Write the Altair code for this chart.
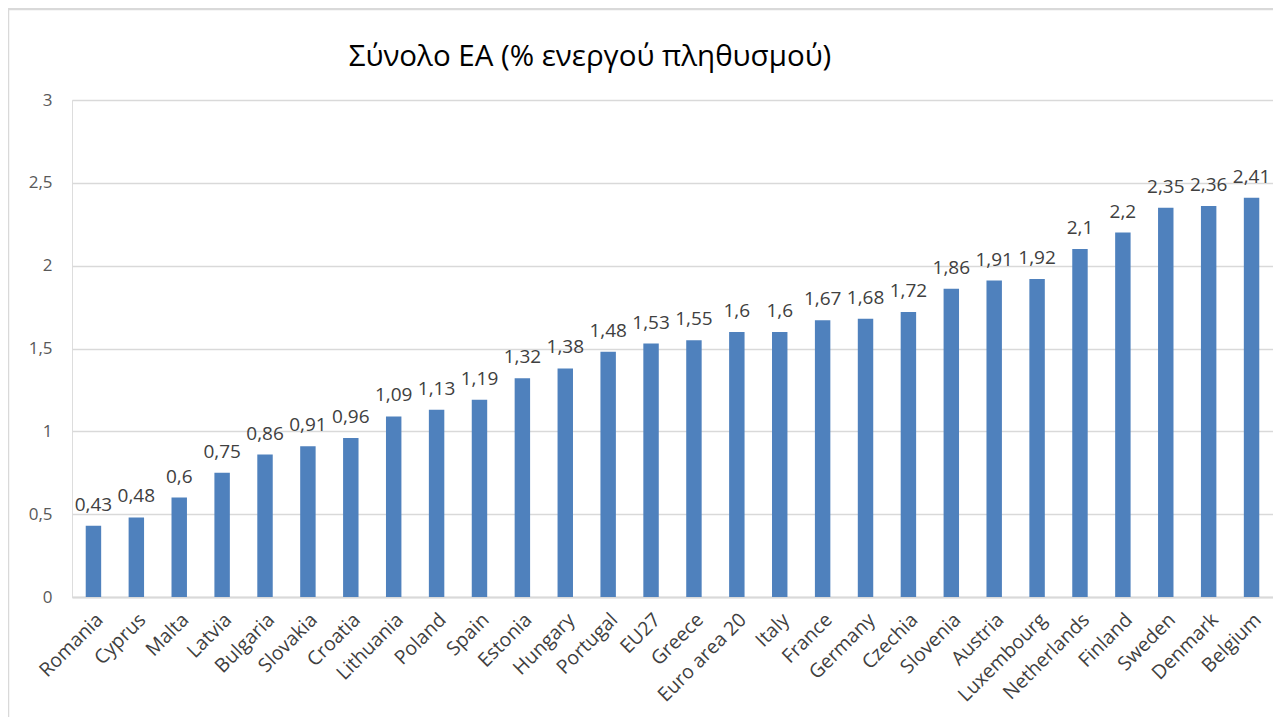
import altair as alt
import pandas as pd

countries = ["Romania", "Cyprus", "Malta", "Latvia", "Bulgaria", "Slovakia", "Croatia",
             "Lithuania", "Poland", "Spain", "Estonia", "Hungary", "Portugal", "EU27",
             "Greece", "Euro area 20", "Italy", "France", "Germany", "Czechia", "Slovenia",
             "Austria", "Luxembourg", "Netherlands", "Finland", "Sweden", "Denmark", "Belgium"]
values = [0.43, 0.48, 0.6, 0.75, 0.86, 0.91, 0.96, 1.09, 1.13, 1.19, 1.32, 1.38, 1.48, 1.53,
          1.55, 1.6, 1.6, 1.67, 1.68, 1.72, 1.86, 1.91, 1.92, 2.1, 2.2, 2.35, 2.36, 2.41]
y_ticks = [0, 0.5, 1, 1.5, 2, 2.5, 3]
title_text = "Σύνολο ΕΑ (% ενεργού πληθυσμού)"

df = pd.DataFrame({"country": countries, "value": values})

FONT = "Open Sans"
BORDER = "#D9D9D9"

x_enc = alt.X("country:N", sort=countries, title=None,
              scale=alt.Scale(paddingInner=0.64, paddingOuter=0.32),
              axis=alt.Axis(labelAngle=-45, labelFontSize=19.5, labelColor="#404040",
                            labelFont=FONT, labelPadding=13, ticks=False,
                            domainColor="#D9D9D9", domainWidth=2))
y_enc = alt.Y("value:Q", title=None,
              scale=alt.Scale(domain=[0, 3], nice=False),
              axis=alt.Axis(values=y_ticks, format="~g",
                            labelExpr="replace(datum.label, '.', ',')",
                            labelFontSize=17, labelColor="#595959", labelFont=FONT,
                            labelPadding=20, ticks=False, domain=False,
                            gridColor="#D9D9D9", gridWidth=1.5))

base = alt.Chart(df)

bars = base.mark_bar(color="#4F81BD").encode(x=x_enc, y=y_enc)

labels = base.transform_calculate(
    lbl="replace(toString(datum.value), '.', ',')"
).mark_text(dy=-15, fontSize=19, color="#404040", font=FONT, baseline="alphabetic").encode(
    x=alt.X("country:N", sort=countries),
    y=alt.Y("value:Q"),
    text="lbl:N",
)

frame_df = pd.DataFrame({"k": [0]})
left_border = alt.Chart(frame_df).mark_rule(color=BORDER, strokeWidth=2.5).encode(
    x=alt.value(-64), y=alt.value(-91), y2=alt.value(640))
top_border = alt.Chart(frame_df).mark_rule(color=BORDER, strokeWidth=2.5).encode(
    x=alt.value(-65), x2=alt.value(1230), y=alt.value(-91))

title_df = pd.DataFrame({"t": [title_text]})
title = alt.Chart(title_df).mark_text(
    fontSize=29.5, font=FONT, color="#000000", align="center", baseline="alphabetic"
).encode(x=alt.value(518), y=alt.value(-34), text="t:N")

chart = alt.layer(bars, labels, left_border, top_border, title).properties(
    width=1201,
    height=497,
    autosize=alt.AutoSizeParams(type="none"),
    padding={"left": 64, "top": 92, "right": 0, "bottom": 120},
).configure_view(stroke=None).configure(background="white")

chart.save("out.html", embed_options={"renderer": "svg", "actions": False})
